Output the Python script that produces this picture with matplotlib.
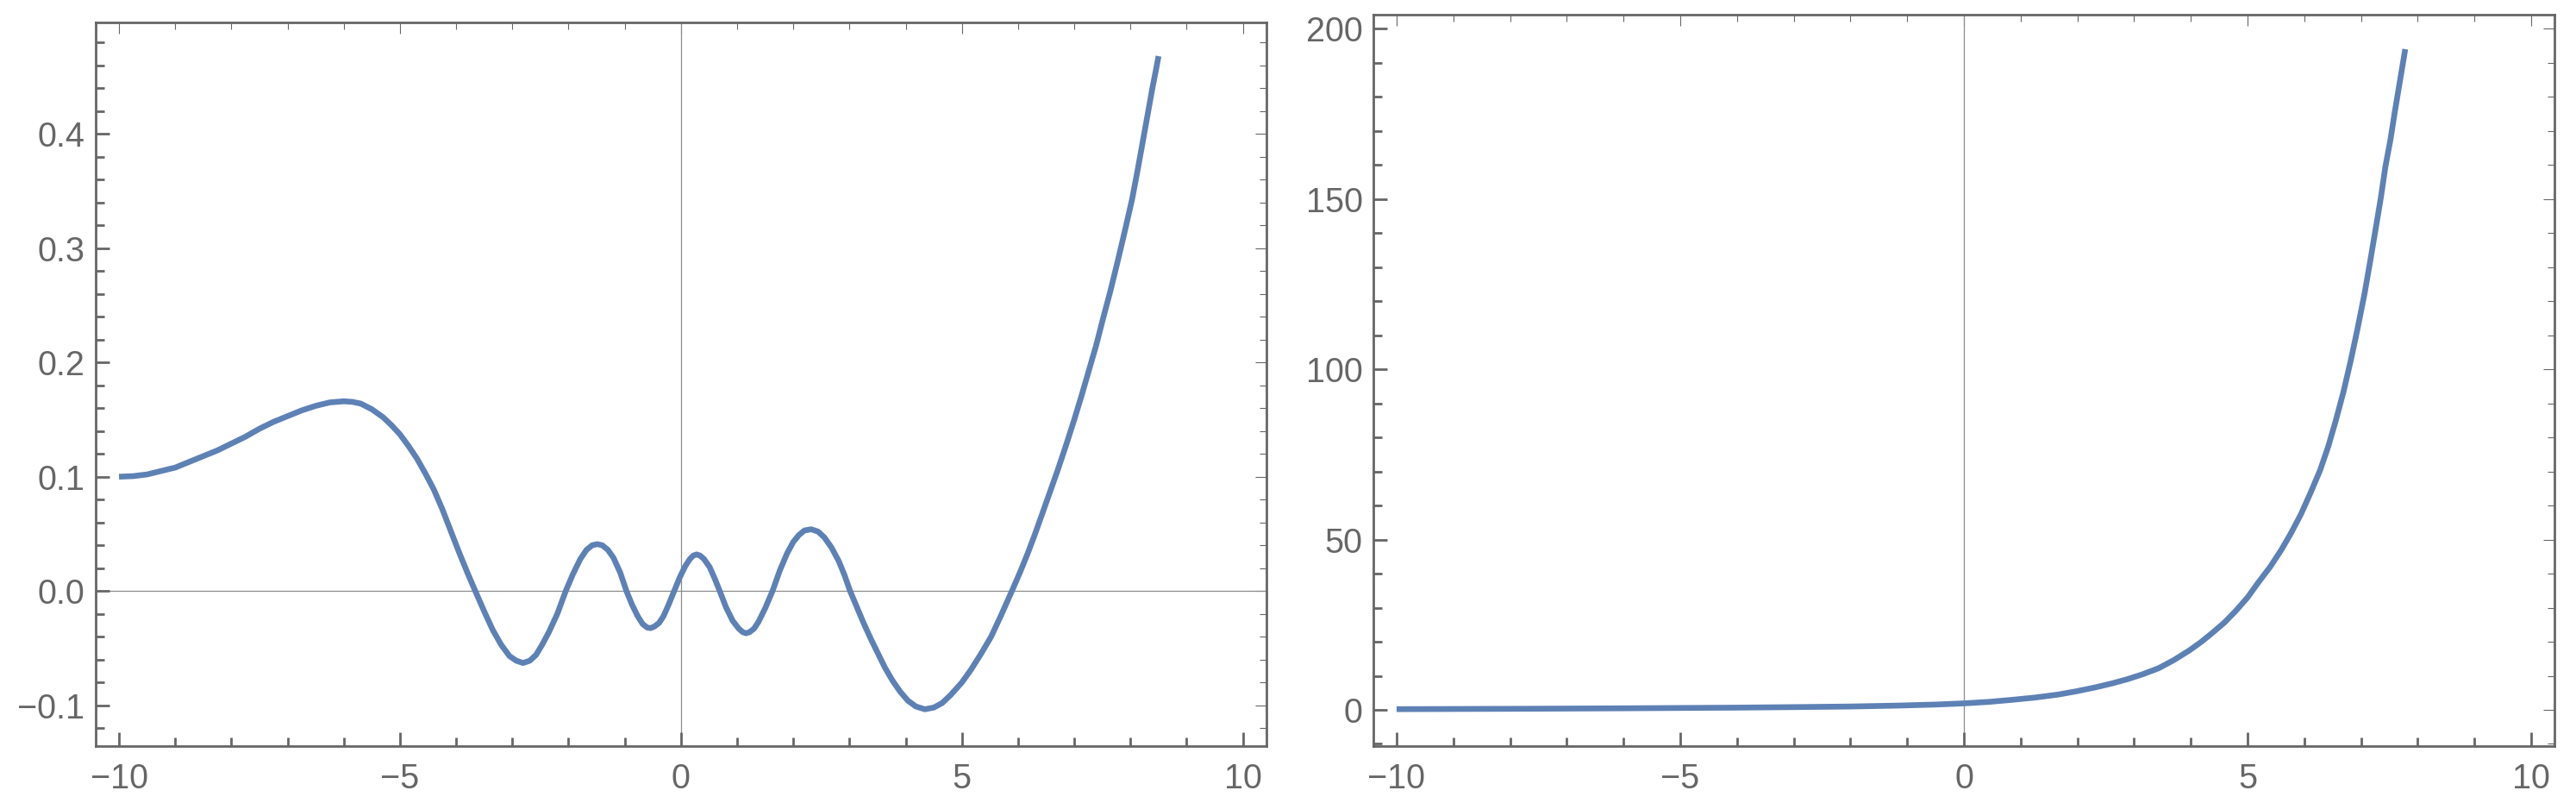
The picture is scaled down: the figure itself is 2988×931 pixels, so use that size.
import matplotlib
matplotlib.use("Agg")
import matplotlib.pyplot as plt
from matplotlib.ticker import MultipleLocator, FixedLocator, FixedFormatter

# ---------------- data ----------------
left_x = [-10.0, -9.75, -9.5, -9.25, -9.0, -8.75, -8.5, -8.25, -8.0, -7.75, -7.5, -7.25,
          -7.0, -6.75, -6.5, -6.25, -6.0, -5.85, -5.7, -5.5, -5.3, -5.15, -5.0, -4.85,
          -4.7, -4.55, -4.4, -4.25, -4.1, -3.95, -3.8, -3.66, -3.5, -3.35, -3.2, -3.05,
          -2.93, -2.81, -2.69, -2.58, -2.47, -2.35, -2.2, -2.05, -1.92, -1.79, -1.68,
          -1.58, -1.49, -1.40, -1.30, -1.2, -1.08, -0.97, -0.87, -0.77, -0.68, -0.60,
          -0.54, -0.47, -0.39, -0.31, -0.22, -0.12, -0.02, 0.08, 0.16, 0.22, 0.28, 0.34,
          0.41, 0.51, 0.60, 0.69, 0.80, 0.92, 1.03, 1.10, 1.16, 1.22, 1.30, 1.38, 1.50,
          1.63, 1.76, 1.89, 2.0, 2.1, 2.2, 2.32, 2.44, 2.55, 2.68, 2.81, 2.91, 3.01,
          3.13, 3.25, 3.38, 3.5, 3.63, 3.76, 3.9, 4.04, 4.18, 4.34, 4.5, 4.65, 4.8, 5.0,
          5.16, 5.34, 5.52, 5.7, 5.89, 6.04, 6.18, 6.31, 6.44, 6.57, 6.7, 6.85, 7.0,
          7.13, 7.26, 7.39, 7.51, 7.64, 7.77, 7.9, 8.03, 8.13, 8.23, 8.31, 8.39, 8.45, 8.5]
left_y = [0.100, 0.1005, 0.102, 0.105, 0.108, 0.113, 0.118, 0.123, 0.129, 0.135, 0.142, 0.148,
          0.153, 0.158, 0.162, 0.165, 0.166, 0.1655, 0.164, 0.159, 0.152, 0.145, 0.137, 0.127,
          0.116, 0.103, 0.089, 0.072, 0.053, 0.034, 0.016, 0.0, -0.018, -0.034, -0.047, -0.057,
          -0.061, -0.063, -0.061, -0.056, -0.047, -0.036, -0.020, 0.0, 0.015, 0.028, 0.036,
          0.040, 0.041, 0.040, 0.036, 0.029, 0.016, 0.0, -0.012, -0.022, -0.029, -0.032,
          -0.0325, -0.031, -0.028, -0.022, -0.012, 0.0, 0.012, 0.022, 0.028, 0.031, 0.032, 0.031,
          0.028, 0.021, 0.011, 0.0, -0.014, -0.026, -0.033, -0.036, -0.037, -0.036, -0.033, -0.027, -0.015,
          0.0, 0.018, 0.033, 0.043, 0.049, 0.053, 0.054, 0.052, 0.047, 0.038, 0.026, 0.014, 0.0,
          -0.014, -0.028, -0.042, -0.054, -0.067, -0.078, -0.088, -0.096, -0.101, -0.1035, -0.102, -0.098, -0.091, -0.080,
          -0.069, -0.055, -0.040, -0.021, 0.0, 0.017, 0.034, 0.051, 0.069, 0.087, 0.105, 0.127, 0.150,
          0.171, 0.193, 0.215, 0.238, 0.262, 0.288, 0.315, 0.343, 0.369, 0.396, 0.418, 0.440, 0.455, 0.468]

right_x = [-10.0, -9.0, -8.0, -7.0, -6.0, -5.0, -4.0, -3.0, -2.0, -1.185, -0.5, 0.0, 0.45,
           0.85, 1.25, 1.66, 2.0, 2.34, 2.62, 2.886, 3.16, 3.43, 3.7, 3.97, 4.18, 4.38,
           4.59, 4.79, 5.0, 5.19, 5.4, 5.6, 5.77, 5.94, 6.11, 6.28, 6.42, 6.55, 6.69,
           6.82, 6.94, 7.06, 7.16, 7.26, 7.35, 7.43, 7.52, 7.6, 7.69, 7.78]
right_y = [0.2, 0.25, 0.3, 0.37, 0.45, 0.55, 0.65, 0.8, 0.98, 1.24, 1.55, 1.9, 2.35,
           2.94, 3.6, 4.48, 5.5, 6.68, 7.8, 9.01, 10.5, 12.2, 14.6, 17.4, 19.9, 22.6,
           25.6, 29.0, 33.0, 37.4, 42.0, 47.1, 52.0, 57.4, 63.7, 70.4, 77.2, 84.6, 93.3,
           102.6, 112.0, 122.0, 131.5, 141.4, 150.4, 159.5, 167.5, 176.0, 185.0, 194.0]

x_major = [-10, -5, 0, 5, 10]
x_major_labels = ["\u221210", "\u22125", "0", "5", "10"]
left_y_major = [-0.1, 0.0, 0.1, 0.2, 0.3, 0.4]
left_y_labels = ["\u22120.1", "0.0", "0.1", "0.2", "0.3", "0.4"]
right_y_major = [0, 50, 100, 150, 200]
right_y_labels = ["0", "50", "100", "150", "200"]

# ---------------- style ----------------
W, H, DPI = 2988, 931, 100
LINE_COLOR = "#5E81B5"
FRAME = "#666666"
AXLINE = "#8c8c8c"
FS = 28.5

plt.rcParams["font.family"] = ["Liberation Sans", "DejaVu Sans"]

fig = plt.figure(figsize=(W / DPI, H / DPI), dpi=DPI)
ax1 = fig.add_axes([110.7 / W, (H - 865) / H, (1469 - 110.7) / W, (865 - 26) / H])
ax2 = fig.add_axes([1593 / W, (H - 865) / H, (2963 - 1593) / W, (865 - 17.5) / H])


def style(ax, xlim, ylim, yticks, ylabels, yminor, hline):
    ax.set_xlim(*xlim)
    ax.set_ylim(*ylim)
    for s in ax.spines.values():
        s.set_color(FRAME)
        s.set_linewidth(2.0)
    if hline:
        ax.axhline(0, color=AXLINE, lw=0.9, zorder=1)
    ax.axvline(0, color=AXLINE, lw=0.9, zorder=1)
    ax.xaxis.set_major_locator(FixedLocator(x_major))
    ax.xaxis.set_major_formatter(FixedFormatter(x_major_labels))
    ax.xaxis.set_minor_locator(MultipleLocator(1))
    ax.yaxis.set_major_locator(FixedLocator(yticks))
    ax.yaxis.set_major_formatter(FixedFormatter(ylabels))
    ax.yaxis.set_minor_locator(MultipleLocator(yminor))
    ax.tick_params(which="both", direction="in", color=FRAME, width=2.0,
                   labelcolor=FRAME, labelsize=FS, top=False, right=False)
    ax.tick_params(which="major", length=11.5)
    ax.tick_params(which="minor", length=7.0)
    ax.tick_params(axis="x", which="major", pad=14)
    ax.tick_params(axis="y", which="major", pad=9)

    # thin mirrored ticks on top / right
    sx = ax.secondary_xaxis("top")
    sx.xaxis.set_major_locator(FixedLocator(x_major))
    sx.xaxis.set_minor_locator(MultipleLocator(1))
    sx.tick_params(which="both", direction="in", color=FRAME, width=0.8,
                   labeltop=False, labelbottom=False)
    sx.tick_params(which="major", length=9.5)
    sx.tick_params(which="minor", length=6)
    sx.spines["top"].set_visible(False)
    sy = ax.secondary_yaxis("right")
    sy.yaxis.set_major_locator(FixedLocator(yticks))
    sy.yaxis.set_minor_locator(MultipleLocator(yminor))
    sy.tick_params(which="both", direction="in", color=FRAME, width=0.8,
                   labelright=False, labelleft=False)
    sy.tick_params(which="major", length=9.5)
    sy.tick_params(which="minor", length=6)
    sy.spines["right"].set_visible(False)


style(ax1, (-10.42, 10.42), (-0.1357, 0.4975), left_y_major, left_y_labels, 0.02, True)
style(ax2, (-10.41, 10.41), (-10.64, 204.0), right_y_major, right_y_labels, 10, False)

ax1.plot(left_x, left_y, color=LINE_COLOR, lw=4.8, solid_capstyle="butt",
         solid_joinstyle="round", zorder=3)
ax2.plot(right_x, right_y, color=LINE_COLOR, lw=4.8, solid_capstyle="butt",
         solid_joinstyle="round", zorder=3)

fig.savefig("out.png", dpi=DPI, facecolor="white")
